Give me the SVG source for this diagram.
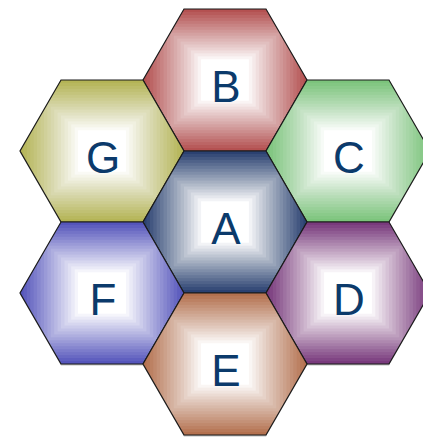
<svg xmlns="http://www.w3.org/2000/svg" xmlns:xlink="http://www.w3.org/1999/xlink" width="423" height="437" viewBox="0 0 423 437">
<style>
.hex{stroke:#1a1a1a;stroke-width:1.2;stroke-linejoin:miter}
.shadow{fill:#000;opacity:0.25}
.lbl{font-family:"Liberation Sans",Arial,sans-serif;font-size:44px;fill:#0b3a6b;text-anchor:middle}
.band{fill:#fff}
</style>
<defs>
<clipPath id="hexclip"><polygon points="82,0 41,71 -41,71 -82,0 -41,-71 41,-71"/></clipPath>
<polygon id="hexshape" points="82,0 41,71 -41,71 -82,0 -41,-71 41,-71"/>
<g id="glow" clip-path="url(#hexclip)">
<rect class="band" x="-78.583" y="-68.042" width="157.167" height="136.083" fill-opacity="0.0588"/>
<rect class="band" x="-75.167" y="-65.083" width="150.333" height="130.167" fill-opacity="0.0625"/>
<rect class="band" x="-71.75" y="-62.125" width="143.5" height="124.25" fill-opacity="0.0667"/>
<rect class="band" x="-68.333" y="-59.167" width="136.667" height="118.333" fill-opacity="0.0714"/>
<rect class="band" x="-64.917" y="-56.208" width="129.833" height="112.417" fill-opacity="0.0769"/>
<rect class="band" x="-61.5" y="-53.25" width="123" height="106.5" fill-opacity="0.0833"/>
<rect class="band" x="-58.083" y="-50.292" width="116.167" height="100.583" fill-opacity="0.0909"/>
<rect class="band" x="-54.667" y="-47.333" width="109.333" height="94.667" fill-opacity="0.1"/>
<rect class="band" x="-51.25" y="-44.375" width="102.5" height="88.75" fill-opacity="0.1111"/>
<rect class="band" x="-47.833" y="-41.417" width="95.667" height="82.833" fill-opacity="0.125"/>
<rect class="band" x="-44.417" y="-38.458" width="88.833" height="76.917" fill-opacity="0.1429"/>
<rect class="band" x="-41" y="-35.5" width="82" height="71" fill-opacity="0.1667"/>
<rect class="band" x="-37.583" y="-32.542" width="75.167" height="65.083" fill-opacity="0.2"/>
<rect class="band" x="-34.167" y="-29.583" width="68.333" height="59.167" fill-opacity="0.25"/>
<rect class="band" x="-30.75" y="-26.625" width="61.5" height="53.25" fill-opacity="0.3333"/>
<rect class="band" x="-27.333" y="-23.667" width="54.667" height="47.333" fill-opacity="0.5"/>
<rect class="band" x="-23.917" y="-20.708" width="47.833" height="41.417" fill-opacity="1"/>
</g>
</defs>
<g id="shadows">
<use xlink:href="#hexshape" class="shadow" transform="translate(225,81.5)"/>
<use xlink:href="#hexshape" class="shadow" transform="translate(102,152.5)"/>
<use xlink:href="#hexshape" class="shadow" transform="translate(348,152.5)"/>
<use xlink:href="#hexshape" class="shadow" transform="translate(225,223.5)"/>
<use xlink:href="#hexshape" class="shadow" transform="translate(102,294.5)"/>
<use xlink:href="#hexshape" class="shadow" transform="translate(348,294.5)"/>
<use xlink:href="#hexshape" class="shadow" transform="translate(225,365.5)"/>
</g>
<g id="node-B" transform="translate(225,80)">
<use xlink:href="#hexshape" fill="#b45151"/><use xlink:href="#glow"/><use xlink:href="#hexshape" class="hex" fill="none"/>
<text class="lbl" x="1" y="22">B</text>
</g>
<g id="node-G" transform="translate(102,151)">
<use xlink:href="#hexshape" fill="#b4b456"/><use xlink:href="#glow"/><use xlink:href="#hexshape" class="hex" fill="none"/>
<text class="lbl" x="1" y="22">G</text>
</g>
<g id="node-C" transform="translate(348,151)">
<use xlink:href="#hexshape" fill="#7cc47c"/><use xlink:href="#glow"/><use xlink:href="#hexshape" class="hex" fill="none"/>
<text class="lbl" x="1" y="22">C</text>
</g>
<g id="node-A" transform="translate(225,222)">
<use xlink:href="#hexshape" fill="#2b4171"/><use xlink:href="#glow"/><use xlink:href="#hexshape" class="hex" fill="none"/>
<text class="lbl" x="1" y="22">A</text>
</g>
<g id="node-F" transform="translate(102,293)">
<use xlink:href="#hexshape" fill="#5555bb"/><use xlink:href="#glow"/><use xlink:href="#hexshape" class="hex" fill="none"/>
<text class="lbl" x="1" y="22">F</text>
</g>
<g id="node-D" transform="translate(348,293)">
<use xlink:href="#hexshape" fill="#793a7d"/><use xlink:href="#glow"/><use xlink:href="#hexshape" class="hex" fill="none"/>
<text class="lbl" x="1" y="22">D</text>
</g>
<g id="node-E" transform="translate(225,364)">
<use xlink:href="#hexshape" fill="#b4714f"/><use xlink:href="#glow"/><use xlink:href="#hexshape" class="hex" fill="none"/>
<text class="lbl" x="1" y="22">E</text>
</g>
<g id="connectors"/>
</svg>
